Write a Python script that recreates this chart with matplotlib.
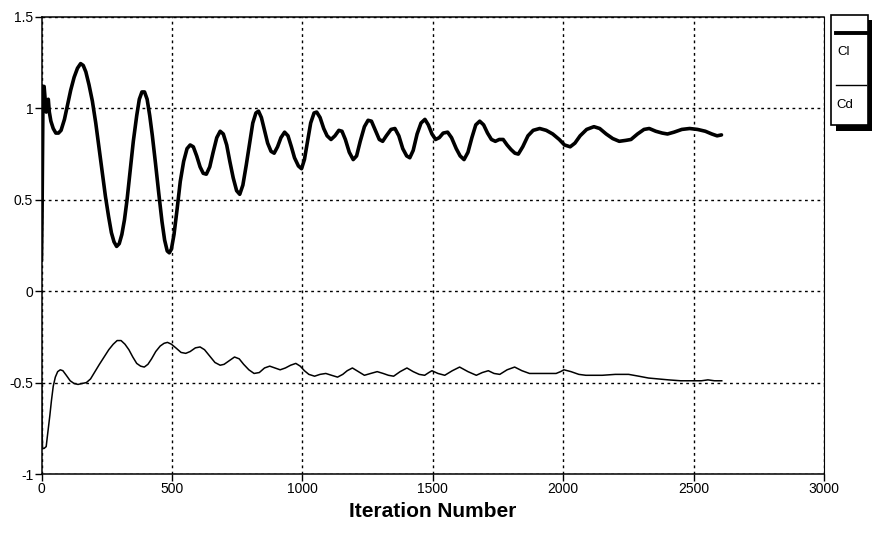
import matplotlib
matplotlib.use("Agg")
import matplotlib.pyplot as plt
from matplotlib.patches import Rectangle
from matplotlib.lines import Line2D

# lift coefficient history
cl_iter = [0, 2, 4, 6, 10, 14, 18, 22, 26, 30, 36, 45, 55, 65, 75, 88, 100,
           112, 125, 138, 150, 160, 170, 182, 195, 208, 220, 233, 245, 257,
           268, 278, 288, 298, 308, 318, 328, 340, 352, 365, 375, 385, 395,
           405, 415, 425, 437, 450, 462, 472, 482, 490, 498, 508, 520, 532,
           545, 558, 570, 582, 595, 608, 620, 632, 645, 658, 672, 685, 697,
           710, 722, 735, 748, 760, 772, 785, 798, 810, 822, 832, 843, 855,
           867, 880, 892, 905, 918, 932, 945, 958, 970, 985, 997, 1008, 1020,
           1032, 1045, 1055, 1068, 1082, 1095, 1110, 1125, 1140, 1152, 1165,
           1180, 1195, 1208, 1222, 1238, 1252, 1265, 1280, 1295, 1308, 1322,
           1340, 1355, 1370, 1385, 1400, 1412, 1425, 1440, 1455, 1470, 1483,
           1497, 1511, 1525, 1540, 1557, 1572, 1590, 1605, 1620, 1635, 1650,
           1665, 1680, 1695, 1710, 1725, 1740, 1755, 1770, 1785, 1800, 1815,
           1828, 1845, 1865, 1885, 1910, 1935, 1960, 1985, 2005, 2027, 2045,
           2065, 2090, 2118, 2140, 2165, 2190, 2215, 2240, 2260, 2285, 2310,
           2330, 2355, 2380, 2400, 2425, 2455, 2485, 2515, 2545, 2570, 2590,
           2607]
cl_vals = [0.17, 0.40, 0.80, 1.12, 1.12, 1.05, 0.98, 1.03, 1.05, 0.98, 0.93,
           0.89, 0.865, 0.865, 0.88, 0.94, 1.02, 1.10, 1.17, 1.22, 1.245,
           1.235, 1.20, 1.13, 1.04, 0.92, 0.79, 0.65, 0.52, 0.41, 0.32, 0.27,
           0.245, 0.26, 0.31, 0.39, 0.50, 0.66, 0.82, 0.96, 1.05, 1.09, 1.09,
           1.05, 0.96, 0.85, 0.70, 0.53, 0.38, 0.28, 0.22, 0.21, 0.23, 0.31,
           0.45, 0.60, 0.71, 0.78, 0.80, 0.79, 0.74, 0.68, 0.645, 0.64, 0.68,
           0.76, 0.84, 0.875, 0.86, 0.80, 0.71, 0.62, 0.55, 0.53, 0.58, 0.69,
           0.81, 0.92, 0.975, 0.985, 0.95, 0.88, 0.81, 0.765, 0.755, 0.79,
           0.84, 0.87, 0.85, 0.79, 0.73, 0.685, 0.67, 0.72, 0.82, 0.92, 0.975,
           0.98, 0.95, 0.89, 0.85, 0.83, 0.85, 0.88, 0.875, 0.83, 0.76, 0.72,
           0.74, 0.82, 0.90, 0.935, 0.93, 0.88, 0.83, 0.82, 0.85, 0.885, 0.89,
           0.85, 0.78, 0.74, 0.73, 0.77, 0.86, 0.92, 0.94, 0.91, 0.86, 0.83,
           0.84, 0.865, 0.87, 0.84, 0.78, 0.74, 0.72, 0.76, 0.84, 0.91, 0.93,
           0.91, 0.865, 0.83, 0.82, 0.83, 0.83, 0.80, 0.775, 0.755, 0.75, 0.79,
           0.85, 0.88, 0.89, 0.88, 0.86, 0.83, 0.80, 0.79, 0.81, 0.85, 0.885,
           0.90, 0.89, 0.86, 0.835, 0.82, 0.825, 0.83, 0.86, 0.885, 0.89,
           0.875, 0.865, 0.86, 0.87, 0.885, 0.89, 0.885, 0.875, 0.86, 0.85,
           0.855]

# drag coefficient history
cd_iter = [0, 2, 4, 10, 18, 22, 27, 32, 38, 45, 53, 62, 72, 82, 95, 110, 125,
           140, 155, 172, 188, 205, 222, 240, 258, 275, 290, 305, 320, 335,
           350, 365, 380, 394, 408, 422, 438, 455, 470, 483, 498, 515, 535,
           553, 570, 590, 608, 625, 645, 665, 685, 700, 720, 740, 758, 775,
           795, 815, 835, 855, 875, 895, 915, 935, 955, 975, 992, 1008, 1025,
           1047, 1068, 1090, 1112, 1135, 1155, 1172, 1192, 1215, 1238, 1262,
           1287, 1310, 1330, 1350, 1375, 1401, 1425, 1448, 1469, 1485, 1497,
           1520, 1546, 1575, 1603, 1635, 1667, 1690, 1713, 1735, 1757, 1785,
           1814, 1842, 1871, 1920, 1973, 1990, 2003, 2030, 2060, 2087, 2150,
           2200, 2251, 2290, 2327, 2365, 2403, 2450, 2506, 2530, 2555, 2580,
           2608]
cd_vals = [-0.50, -0.75, -0.86, -0.86, -0.85, -0.80, -0.74, -0.68, -0.60,
           -0.52, -0.47, -0.44, -0.43, -0.435, -0.46, -0.49, -0.505, -0.51,
           -0.505, -0.50, -0.48, -0.44, -0.40, -0.36, -0.32, -0.29, -0.27,
           -0.27, -0.29, -0.32, -0.36, -0.395, -0.41, -0.415, -0.40, -0.37,
           -0.33, -0.30, -0.285, -0.28, -0.29, -0.31, -0.335, -0.34, -0.33,
           -0.31, -0.305, -0.32, -0.355, -0.39, -0.405, -0.40, -0.38, -0.36,
           -0.37, -0.40, -0.43, -0.45, -0.445, -0.42, -0.41, -0.42, -0.43,
           -0.42, -0.405, -0.395, -0.41, -0.435, -0.455, -0.465, -0.455,
           -0.45, -0.46, -0.47, -0.455, -0.435, -0.42, -0.44, -0.46, -0.45,
           -0.44, -0.45, -0.46, -0.465, -0.44, -0.42, -0.44, -0.455, -0.46,
           -0.445, -0.435, -0.45, -0.46, -0.435, -0.415, -0.44, -0.46, -0.445,
           -0.435, -0.45, -0.455, -0.43, -0.415, -0.435, -0.45, -0.45, -0.45,
           -0.44, -0.43, -0.44, -0.455, -0.46, -0.46, -0.455, -0.455, -0.465,
           -0.475, -0.48, -0.485, -0.49, -0.49, -0.49, -0.485, -0.49, -0.49]

x_ticks = [0, 500, 1000, 1500, 2000, 2500, 3000]
x_labels = ["0", "500", "1000", "1500", "2000", "2500", "3000"]
y_ticks = [-1, -0.5, 0, 0.5, 1, 1.5]
y_labels = ["-1", "-0.5", "0", "0.5", "1", "1.5"]

W, H = 872, 534
plt.rcParams.update({"font.family": ["Liberation Sans", "DejaVu Sans"],
                     "axes.unicode_minus": False})
fig = plt.figure(figsize=(W / 100, H / 100), dpi=100)


def fx(px):
    return px / W


def fy(py):
    return 1 - py / H


ax = fig.add_axes([fx(41.5), fy(474), fx(824) - fx(41.5), fy(17) - fy(474)])
ax.plot(cl_iter, cl_vals, color="black", lw=2.6, solid_joinstyle="round",
        solid_capstyle="round", zorder=3)
ax.plot(cd_iter, cd_vals, color="black", lw=1.1, solid_joinstyle="round",
        zorder=3)

ax.set_xlim(0, 3000)
ax.set_ylim(-1, 1.5)
ax.set_xticks(x_ticks)
ax.set_xticklabels(x_labels, fontsize=10)
ax.set_yticks(y_ticks)
ax.set_yticklabels(y_labels, fontsize=10)
ax.tick_params(direction="out", length=5, width=1, pad=1, colors="black")
ax.grid(True, ls=(0, (2, 2.5)), lw=1, color="black")
for s in ax.spines.values():
    s.set_linewidth(1.1)
ax.spines["right"].set_linewidth(0.8)
ax.set_xlabel("Iteration Number", fontsize=15, fontweight="bold", labelpad=4)

# hand-drawn style legend box with drop shadow at the right edge
fig.add_artist(Rectangle((fx(836), fy(131)), fx(872) - fx(836), fy(124) - fy(131),
                         transform=fig.transFigure, color="black", lw=0))
fig.add_artist(Rectangle((fx(866), fy(131)), fx(872) - fx(866), fy(20) - fy(131),
                         transform=fig.transFigure, color="black", lw=0))
fig.add_artist(Rectangle((fx(831), fy(125)), fx(868) - fx(831), fy(15) - fy(125),
                         transform=fig.transFigure, facecolor="white",
                         edgecolor="black", lw=1.2))
fig.add_artist(Line2D([fx(836), fx(866)], [fy(33), fy(33)],
                      transform=fig.transFigure, color="black", lw=2.8))
fig.add_artist(Line2D([fx(836), fx(866)], [fy(85), fy(85)],
                      transform=fig.transFigure, color="black", lw=1.0))
fig.text(fx(837), fy(52), "Cl", fontsize=9.5, va="center", ha="left")
fig.text(fx(836), fy(105), "Cd", fontsize=9.5, va="center", ha="left")

fig.savefig("out.png", dpi=100)
